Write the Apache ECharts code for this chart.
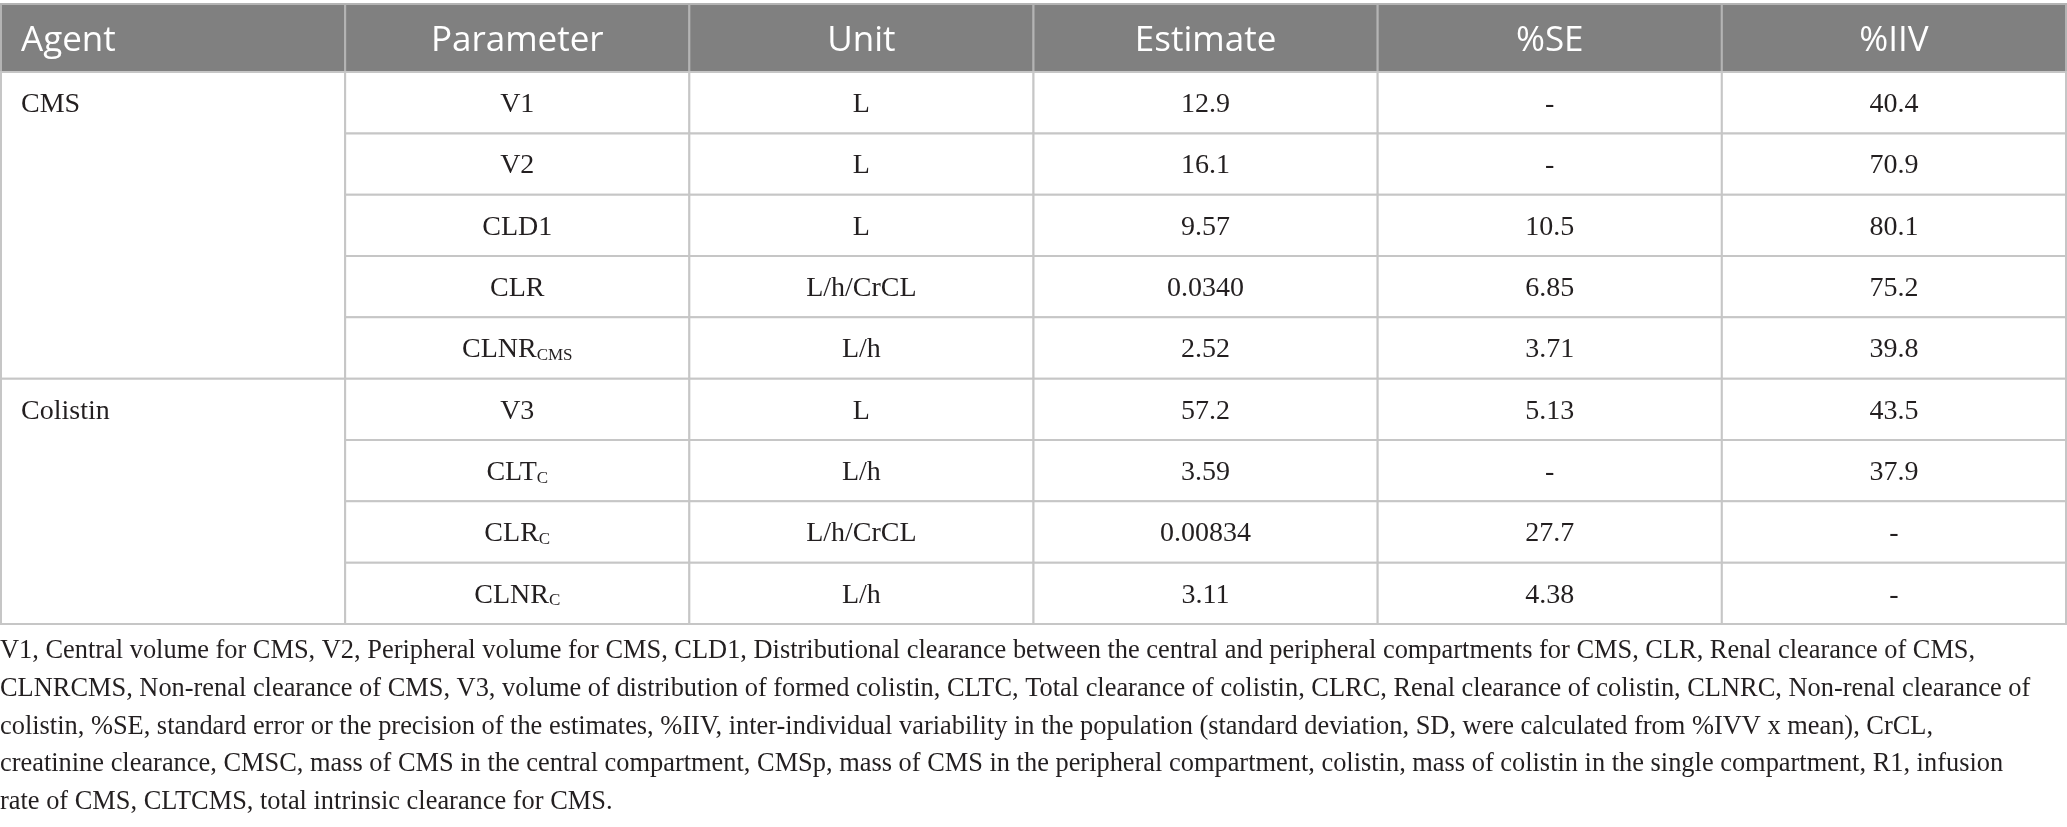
<!DOCTYPE html>
<html>
<head>
<meta charset="utf-8">
<script src="https://cdn.jsdelivr.net/npm/echarts@6/dist/echarts.min.js"></script>
<style>
  html, body { margin: 0; padding: 0; background: #fff; }
  #main { width: 2067px; height: 827px; }
</style>
</head>
<body>
<div id="main"></div>
<script>
// table content
const headers = ['Agent', 'Parameter', 'Unit', 'Estimate', '%SE', '%IIV'];
const agents = ['CMS', 'Colistin'];
const agentSpans = [5, 4];
const params = ['V1', 'V2', 'CLD1', 'CLR', 'CLNR', 'V3', 'CLT', 'CLR', 'CLNR'];
const paramSubs = ['', '', '', '', 'CMS', '', 'C', 'C', 'C'];
const units = ['L', 'L', 'L', 'L/h/CrCL', 'L/h', 'L', 'L/h', 'L/h/CrCL', 'L/h'];
const estimates = ['12.9', '16.1', '9.57', '0.0340', '2.52', '57.2', '3.59', '0.00834', '3.11'];
const seValues = ['-', '-', '10.5', '6.85', '3.71', '5.13', '-', '27.7', '4.38'];
const iivValues = ['40.4', '70.9', '80.1', '75.2', '39.8', '43.5', '37.9', '-', '-'];
const footnote = [
  'V1, Central volume for CMS, V2, Peripheral volume for CMS, CLD1, Distributional clearance between the central and peripheral compartments for CMS, CLR, Renal clearance of CMS,',
  'CLNRCMS, Non-renal clearance of CMS, V3, volume of distribution of formed colistin, CLTC, Total clearance of colistin, CLRC, Renal clearance of colistin, CLNRC, Non-renal clearance of',
  'colistin, %SE, standard error or the precision of the estimates, %IIV, inter-individual variability in the population (standard deviation, SD, were calculated from %IVV x mean), CrCL,',
  'creatinine clearance, CMSC, mass of CMS in the central compartment, CMSp, mass of CMS in the peripheral compartment, colistin, mass of colistin in the single compartment, R1, infusion',
  'rate of CMS, CLTCMS, total intrinsic clearance for CMS.'
];

const HEAD = 1.11; // header row is a bit taller than body rows
const nRows = params.length;

// cells: [col, yTop, yBottom, yText, text, kind]  kind 0 header, 1 agent, 2 body
let cells = [];
headers.forEach((h, c) => cells.push([c, 0, HEAD, HEAD / 2, h, 0]));
let start = 0;
agents.forEach((a, i) => {
  cells.push([0, HEAD + start, HEAD + start + agentSpans[i], HEAD + start + 0.5, a, 1]);
  start += agentSpans[i];
});
for (let r = 0; r < nRows; r++) {
  const y0 = HEAD + r, y1 = y0 + 1, ym = y0 + 0.5;
  const p = paramSubs[r] ? params[r] + '{s|' + paramSubs[r] + '}' : params[r];
  cells.push([1, y0, y1, ym, p, 2]);
  cells.push([2, y0, y1, ym, units[r], 2]);
  cells.push([3, y0, y1, ym, estimates[r], 2]);
  cells.push([4, y0, y1, ym, seValues[r], 2]);
  cells.push([5, y0, y1, ym, iivValues[r], 2]);
}

const serif = '"Liberation Serif", "Times New Roman", serif';
const sans = '"Open Sans", "Noto Sans", sans-serif';

function renderCell(params, api) {
  const c = api.value(0);
  const kind = api.value(5);
  const p0 = api.coord([c, api.value(1)]);
  const p1 = api.coord([c + 1, api.value(2)]);
  const pt = api.coord([c, api.value(3)]);
  const left = kind !== 2 && c === 0;
  const text = cells[params.dataIndex][4];
  return {
    type: 'group',
    children: [
      {
        type: 'rect',
        shape: { x: p0[0], y: p0[1], width: p1[0] - p0[0], height: p1[1] - p0[1] },
        style: {
          fill: kind === 0 ? '#808080' : '#fff',
          stroke: kind === 0 ? '#b4b4b4' : '#c6c6c6',
          lineWidth: 2
        }
      },
      {
        type: 'text',
        style: {
          text: text,
          x: left ? p0[0] + 20 : (p0[0] + p1[0]) / 2,
          y: pt[1] + (kind === 0 ? 3 : 2),
          align: left ? 'left' : 'center',
          verticalAlign: 'middle',
          fill: kind === 0 ? '#fff' : '#231f20',
          fontSize: kind === 0 ? 35 : 28,
          fontFamily: kind === 0 ? sans : serif,
          rich: {
            s: { fontSize: 17, fontFamily: serif, fill: '#231f20', verticalAlign: 'bottom', lineHeight: 12 }
          }
        }
      }
    ]
  };
}

const chart = echarts.init(document.getElementById('main'));
chart.setOption({
  animation: false,
  grid: { left: 1, right: 1, top: 4, bottom: 203 },
  xAxis: { type: 'value', min: 0, max: 6, show: false },
  yAxis: { type: 'value', min: 0, max: HEAD + nRows, inverse: true, show: false },
  graphic: footnote.map((line, i) => ({
    type: 'text',
    left: 0,
    top: 638 + i * 37.8,
    style: { text: line, fontSize: 26.4, fontFamily: serif, fill: '#231f20' }
  })),
  series: [{
    type: 'custom',
    renderItem: renderCell,
    data: cells,
    encode: { x: 0, y: [1, 2] }
  }]
});
</script>
</body>
</html>
